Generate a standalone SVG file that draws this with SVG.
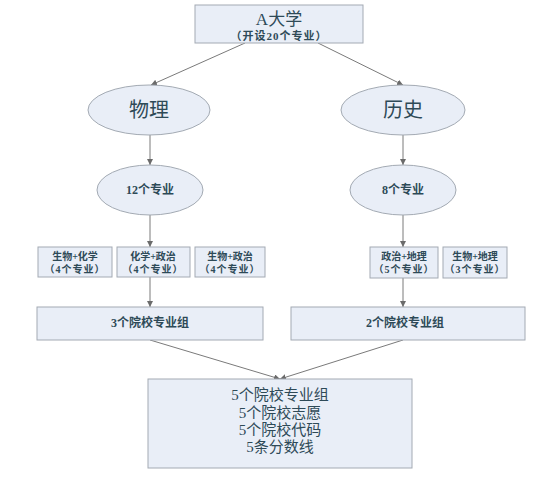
<svg xmlns="http://www.w3.org/2000/svg" width="550" height="481" viewBox="0 0 550 481">
<defs>
<marker id="arr" viewBox="0 0 8 8" refX="8" refY="4" markerWidth="6" markerHeight="6" orient="auto">
<path d="M0,0 L8,4 L0,8 z" fill="#6b6b6b"/>
</marker>
<style>
.n{fill:#e9eef7;stroke:#a3aab3;stroke-width:1}
.t{font-family:"Liberation Serif","Noto Sans CJK SC",serif;fill:#2e4a57;text-anchor:middle;dominant-baseline:central}
.b{font-weight:bold}
.s{letter-spacing:1px}
.c{stroke:#7a7a7a;stroke-width:1;fill:none}
</style>
</defs>
<rect width="550" height="481" fill="#ffffff"/>
<g id="connectors">
<line class="c" x1="245" y1="43" x2="151" y2="85" marker-end="url(#arr)"/>
<line class="c" x1="318" y1="43" x2="403" y2="85" marker-end="url(#arr)"/>
<line class="c" x1="150" y1="135" x2="150" y2="165" marker-end="url(#arr)"/>
<line class="c" x1="403" y1="135" x2="403" y2="165" marker-end="url(#arr)"/>
<line class="c" x1="150" y1="215" x2="150" y2="247" marker-end="url(#arr)"/>
<line class="c" x1="403" y1="215" x2="403" y2="247" marker-end="url(#arr)"/>
<line class="c" x1="150" y1="277" x2="150" y2="307" marker-end="url(#arr)"/>
<line class="c" x1="403" y1="278" x2="403" y2="307" marker-end="url(#arr)"/>
<line class="c" x1="150" y1="340" x2="280" y2="379" marker-end="url(#arr)"/>
<line class="c" x1="403" y1="340" x2="280" y2="379" marker-end="url(#arr)"/>
</g>
<g id="univ">
<rect class="n" x="195" y="5" width="168" height="38"/>
<text class="t" x="279" y="19" font-size="17">A大学</text>
<text class="t b s" x="279" y="36" font-size="11">（开设20个专业）</text>
</g>
<g id="physics">
<ellipse class="n" cx="149" cy="110" rx="61" ry="25"/>
<text class="t" x="149" y="110" font-size="20">物理</text>
</g>
<g id="history">
<ellipse class="n" cx="403" cy="110" rx="62" ry="25"/>
<text class="t" x="403" y="110" font-size="20">历史</text>
</g>
<g id="p12">
<ellipse class="n" cx="150" cy="190" rx="53" ry="25"/>
<text class="t b" x="150" y="190" font-size="12">12个专业</text>
</g>
<g id="h8">
<ellipse class="n" cx="403" cy="190" rx="53" ry="25"/>
<text class="t b" x="403" y="190" font-size="12">8个专业</text>
</g>
<g id="bio-chem">
<rect class="n" x="38" y="247" width="74" height="30"/>
<text class="t b" x="75" y="256" font-size="10">生物+化学</text>
<text class="t b s" x="75" y="269" font-size="10">（4个专业）</text>
</g>
<g id="chem-pol">
<rect class="n" x="117" y="247" width="73" height="30"/>
<text class="t b" x="153" y="256" font-size="10">化学+政治</text>
<text class="t b s" x="153" y="269" font-size="10">（4个专业）</text>
</g>
<g id="bio-pol">
<rect class="n" x="195" y="247" width="70" height="30"/>
<text class="t b" x="230" y="256" font-size="10">生物+政治</text>
<text class="t b s" x="230" y="269" font-size="10">（4个专业）</text>
</g>
<g id="pol-geo">
<rect class="n" x="370" y="247" width="68" height="31"/>
<text class="t b" x="404" y="256" font-size="10">政治+地理</text>
<text class="t b s" x="404" y="269" font-size="10">（5个专业）</text>
</g>
<g id="bio-geo">
<rect class="n" x="443" y="247" width="64" height="31"/>
<text class="t b" x="475" y="256" font-size="10">生物+地理</text>
<text class="t b s" x="475" y="269" font-size="10">（3个专业）</text>
</g>
<g id="g3">
<rect class="n" x="37" y="307" width="226" height="33"/>
<text class="t b" x="150" y="323" font-size="12">3个院校专业组</text>
</g>
<g id="g2">
<rect class="n" x="291" y="307" width="234" height="33"/>
<text class="t b" x="405" y="323" font-size="12">2个院校专业组</text>
</g>
<g id="summary">
<rect class="n" x="148" y="379" width="264" height="89"/>
<text class="t" x="280" y="395" font-size="15">5个院校专业组</text>
<text class="t" x="280" y="413" font-size="15">5个院校志愿</text>
<text class="t" x="280" y="430" font-size="15">5个院校代码</text>
<text class="t" x="280" y="447" font-size="15">5条分数线</text>
</g>
</svg>
